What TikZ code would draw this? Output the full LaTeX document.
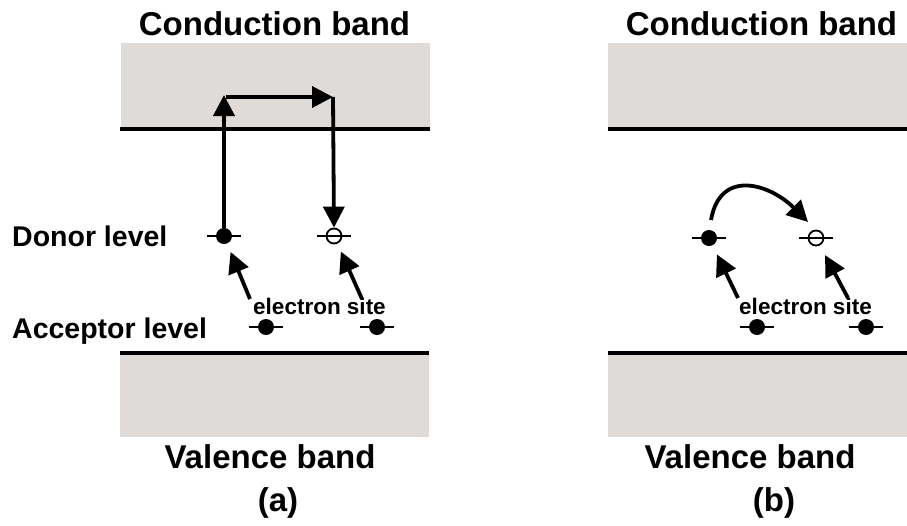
\documentclass[tikz,border=0pt]{standalone}
\usepackage{fontspec}
\setmainfont{Liberation Sans}
\usetikzlibrary{arrows.meta}
\definecolor{bandgray}{RGB}{223,219,216}
\begin{document}
\begin{tikzpicture}[x=1pt,y=-1pt,
  band/.style={fill=bandgray, draw=none},
  bandline/.style={line width=4pt},
  arr/.style={line width=3.8pt, -{Triangle[length=21pt 0 0,width=21pt 0 0]}},
  fdot/.style={circle, fill=black, inner sep=0pt, minimum size=16pt},
  odot/.style={circle, draw=black, fill=white, line width=1.8pt, inner sep=0pt, minimum size=15pt},
  lvl/.style={line width=1.8pt},
  big/.style={font=\fontsize{33}{40}\selectfont\bfseries, inner sep=0pt, anchor=base},
  lvltext/.style={font=\fontsize{28.5}{34}\selectfont\bfseries, inner sep=0pt, anchor=base west},
  small/.style={font=\fontsize{22.5}{27}\selectfont\bfseries, inner sep=0pt, anchor=base},
]
\useasboundingbox (0,0) rectangle (907,525);

% ---------------- (a) ----------------
\fill[band] (121,43) rectangle (430,129);
\fill[band] (120,353) rectangle (429,437);
\draw[bandline] (120,129) -- (430,129);
\draw[bandline] (120,353) -- (429,353);

\node[big] (cba) at (274.5,35) {Conduction band};
\node[big] (vba) at (270,468) {Valence band};
\node[big] (la) at (278,511) {(a)};
\node[lvltext] (don) at (12,246) {Donor level};
\node[lvltext] (acc) at (12,338) {Acceptor level};

\node[fdot] (d1) at (224,236) {};
\node[odot] (o1) at (334,236) {};
\node[fdot] (a1) at (266,327) {};
\node[fdot] (a2) at (377,327) {};
\foreach \n in {d1,o1,a1,a2}
  \draw[lvl] ([xshift=-17pt]\n.center) -- ([xshift=17pt]\n.center);

\node[small] (esa) at (319.5,314) {electron site};

\coordinate (ta) at (224,95);
\coordinate (hs) at (226,97);
\coordinate (tb) at (333,97);
\draw[arr] (d1.north) -- (ta);
\draw[arr] (hs) -- (tb);
\draw[arr] (tb) -- (o1.north);

\coordinate (sa1) at (250,299);
\coordinate (sa2) at (362,299);
\draw[arr, shorten >=9pt] (sa1) -- (d1);
\draw[arr, shorten >=8.5pt] (sa2) -- (o1);

% ---------------- (b) ----------------
\fill[band] (608,43) rectangle (907,129);
\fill[band] (608,353) rectangle (907,437);
\draw[bandline] (608,129) -- (907,129);
\draw[bandline] (608,353) -- (907,353);

\node[big] (cbb) at (761.5,35) {Conduction band};
\node[big] (vbb) at (750,468) {Valence band};
\node[big] (lb) at (774,511) {(b)};

\node[fdot] (d2) at (709,238) {};
\node[odot] (o2) at (816,238) {};
\node[fdot] (a3) at (757,327) {};
\node[fdot] (a4) at (866,327) {};
\foreach \n in {d2,o2,a3,a4}
  \draw[lvl] ([xshift=-17pt]\n.center) -- ([xshift=17pt]\n.center);

\node[small] (esb) at (805.5,314) {electron site};

\coordinate (cs) at (711,220);
\coordinate (ce) at (808,222);
\draw[arr] (cs) to[out=80,in=135,looseness=1.4] (ce);

\coordinate (sb1) at (738,298);
\coordinate (sb2) at (848,298);
\draw[arr, shorten >=10pt] (sb1) -- (d2);
\draw[arr, shorten >=11pt] (sb2) -- (o2);
\end{tikzpicture}
\end{document}
